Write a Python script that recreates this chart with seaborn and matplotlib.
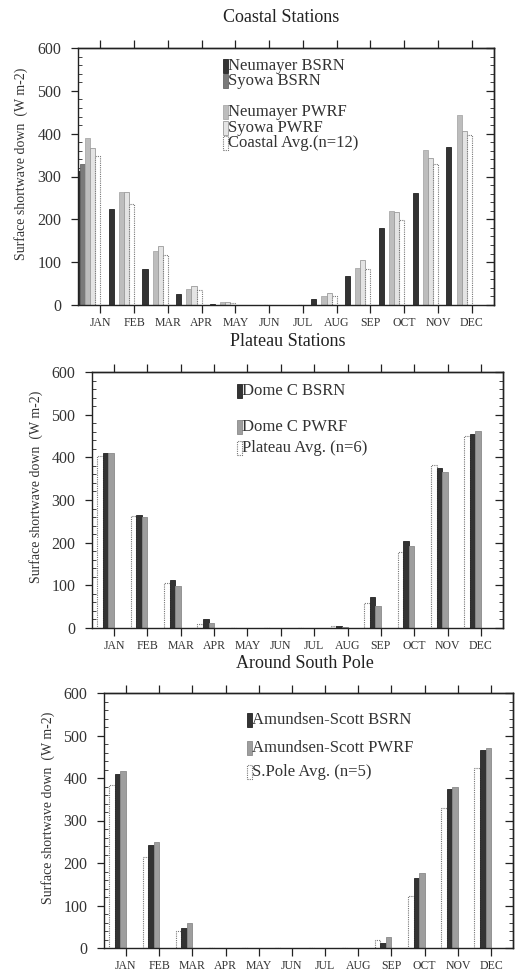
import numpy as np
import pandas as pd
import matplotlib
matplotlib.use("Agg")
import matplotlib.pyplot as plt
from matplotlib.patches import Rectangle
from matplotlib.ticker import MultipleLocator
import seaborn as sns

months = ["JAN", "FEB", "MAR", "APR", "MAY", "JUN",
          "JUL", "AUG", "SEP", "OCT", "NOV", "DEC"]
nan = np.nan

# Coastal stations (W m-2)
neumayer_bsrn = [314, 223, 85, 26, 2, 0, 0, 15, 68, 179, 262, 370]
syowa_bsrn = [329, nan, nan, nan, nan, nan, nan, nan, nan, nan, nan, nan]
neumayer_pwrf = [389, 264, 127, 38, 6, 0, 0, 22, 87, 219, 362, 444]
syowa_pwrf = [367, 264, 138, 44, 7, 0, 0, 28, 105, 217, 343, 406]
coastal_avg = [348, 236, 117, 35, 5, 0, 0, 22, 83, 199, 329, 398]

# Plateau stations
domec_bsrn = [409, 266, 112, 21, 0, 0, 0, 5, 73, 205, 376, 455]
domec_pwrf = [411, 259, 98, 12, 0, 0, 0, 3, 52, 193, 366, 462]
plateau_avg = [402, 262, 106, 10, 0, 0, 0, 4, 58, 179, 382, 450]

# Around the South Pole
sp_bsrn = [409, 243, 47, 0, 0, 0, 0, 0, 12, 164, 373, 465]
sp_pwrf = [417, 249, 60, 0, 0, 0, 0, 0, 25, 176, 379, 471]
sp_avg = [384, 214, 39, 0, 0, 0, 0, 0, 20, 123, 330, 424]

DARK = dict(fc="#333333", ec="#222222", ls="-", lw=0.6)
MID = dict(fc="#7a7a7a", ec="#666666", ls="-", lw=0.6)
LIGHT = dict(fc="#bdbdbd", ec="#aaaaaa", ls="-", lw=0.6)
PALE = dict(fc="#e4e4e4", ec="#9a9a9a", ls="-", lw=0.6)
GREY = dict(fc="#9e9e9e", ec="#8a8a8a", ls="-", lw=0.6)
AVG = dict(fc="white", ec="#777777", ls=(0, (1, 1)), lw=0.8)

panels = [
    dict(title="Coastal Stations",
         series=[("Neumayer BSRN", neumayer_bsrn, DARK),
                 ("Syowa BSRN", syowa_bsrn, MID),
                 ("Neumayer PWRF", neumayer_pwrf, LIGHT),
                 ("Syowa PWRF", syowa_pwrf, PALE),
                 ("Coastal Avg.(n=12)", coastal_avg, AVG)],
         legend=[("Neumayer BSRN", DARK, 66), ("Syowa BSRN", MID, 81),
                 ("Neumayer PWRF", LIGHT, 112), ("Syowa PWRF", PALE, 128),
                 ("Coastal Avg.(n=12)", AVG, 143)],
         legend_x=223, width=0.75,
         box=(78, 48, 416, 257), title_xy=(281, 18)),
    dict(title="Plateau Stations",
         series=[("Plateau Avg. (n=6)", plateau_avg, AVG),
                 ("Dome C BSRN", domec_bsrn, DARK),
                 ("Dome C PWRF", domec_pwrf, GREY)],
         legend=[("Dome C BSRN", DARK, 391), ("Dome C PWRF", GREY, 427),
                 ("Plateau Avg. (n=6)", AVG, 448)],
         legend_x=237, width=0.5,
         box=(92, 372, 411, 256), title_xy=(288, 341)),
    dict(title="Around South Pole",
         series=[("S.Pole Avg. (n=5)", sp_avg, AVG),
                 ("Amundsen-Scott BSRN", sp_bsrn, DARK),
                 ("Amundsen-Scott PWRF", sp_pwrf, GREY)],
         legend=[("Amundsen-Scott BSRN", DARK, 720),
                 ("Amundsen-Scott PWRF", GREY, 748),
                 ("S.Pole Avg. (n=5)", AVG, 772)],
         legend_x=247, width=0.5,
         box=(104, 693, 409, 255), title_xy=(305, 663)),
]

sns.set_theme(style="ticks")
plt.rcParams["font.family"] = ["Liberation Serif", "DejaVu Serif"]
plt.rcParams["axes.linewidth"] = 1.0

W, H = 520, 975
fig = plt.figure(figsize=(W / 100, H / 100), dpi=100)


def fx(x):
    return x / W


def fy(y):
    return 1 - y / H


for p in panels:
    x0, y0, w, h = p["box"]
    ax = fig.add_axes([fx(x0), fy(y0 + h), w / W, h / H])
    names = [s[0] for s in p["series"]]
    df = pd.DataFrame({
        "month": np.tile(months, len(names)),
        "series": np.repeat(names, len(months)),
        "value": np.concatenate([np.asarray(s[1], float) for s in p["series"]]),
    })
    sns.barplot(data=df, x="month", y="value", hue="series", order=months,
                hue_order=names, width=p["width"], errorbar=None,
                saturation=1, legend=False, ax=ax)
    for cont, (_, _, st) in zip(ax.containers, p["series"]):
        for bar in cont:
            bar.set_facecolor(st["fc"])
            bar.set_edgecolor(st["ec"])
            bar.set_linestyle(st["ls"])
            bar.set_linewidth(st["lw"])

    half = p["width"] / 2
    ticks = np.arange(12) + half
    ax.set_xlim(ticks[0] - 0.66, ticks[-1] + 0.66)
    ax.set_ylim(0, 600)
    ax.set_xticks(ticks, months)
    ax.set_yticks(range(0, 601, 100))
    ax.yaxis.set_minor_locator(MultipleLocator(20))
    ax.set_xlabel("")
    ax.set_ylabel("Surface shortwave down  (W m-2)", fontsize=10, color="#333333")
    ax.yaxis.set_label_coords(-0.12, 0.55)
    ax.tick_params(axis="x", which="major", direction="out", length=6, width=0.9,
                   pad=2.5, labelsize=8.5, bottom=True, top=False)
    ax.tick_params(axis="y", which="major", direction="out", length=5, width=0.9,
                   pad=7, labelsize=11.5, left=True, right=False)
    ax.tick_params(axis="y", which="minor", direction="in", length=3, width=0.6,
                   left=True, right=False)
    ax.tick_params(colors="#222222", labelcolor="#333333")
    for sp in ax.spines.values():
        sp.set_visible(True)
        sp.set_color("#222222")

    top = ax.secondary_xaxis("top")
    top.set_xticks(ticks)
    top.set_xticklabels([])
    top.tick_params(direction="out", length=6, width=0.9, colors="#222222")

    right = ax.secondary_yaxis("right")
    right.set_yticks(range(0, 601, 100))
    right.yaxis.set_minor_locator(MultipleLocator(20))
    right.set_yticklabels([])
    right.tick_params(which="major", direction="in", length=6, width=0.9, colors="#222222")
    right.tick_params(which="minor", direction="in", length=3, width=0.6, colors="#222222")

    tx, ty = p["title_xy"]
    fig.text(fx(tx), fy(ty), p["title"], ha="center", va="center",
             fontsize=13, color="#222222")

    lx = p["legend_x"]
    for label, st, ly in p["legend"]:
        fig.patches.append(Rectangle((fx(lx), fy(ly + 7)), 4.5 / W, 14 / H,
                                     transform=fig.transFigure,
                                     facecolor=st["fc"], edgecolor=st["ec"],
                                     linestyle=st["ls"], linewidth=st["lw"]))
        fig.text(fx(lx + 5.5), fy(ly), label, ha="left", va="center",
                 fontsize=12, color="#333333")

fig.savefig("out.png", dpi=100)
